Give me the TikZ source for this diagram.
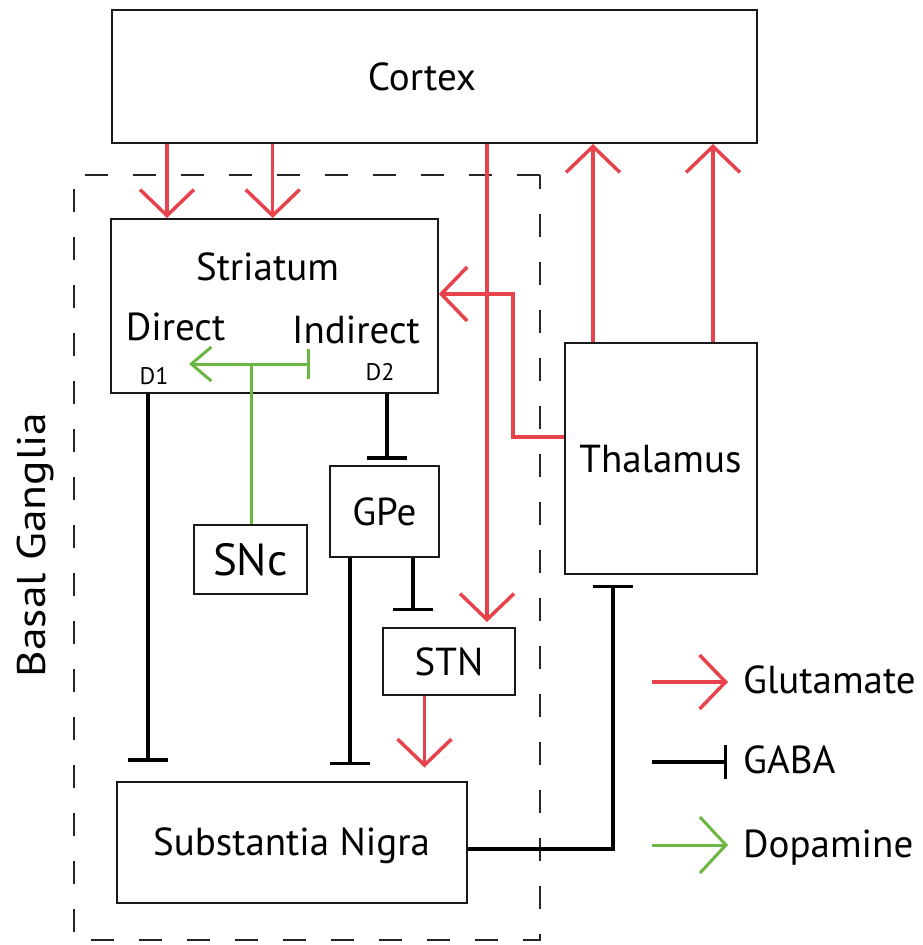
\documentclass[tikz,border=0pt]{standalone}
\usepackage{fontspec}
\setmainfont{PT Sans}
\usetikzlibrary{arrows.meta}
\definecolor{gred}{RGB}{232,67,76}
\definecolor{dgreen}{RGB}{108,182,68}
\begin{document}
\begin{tikzpicture}[x=1pt,y=-1pt,
  box/.style={draw=black!90, line width=2pt, inner sep=0pt, font=\fontsize{39}{45}\selectfont, text height=27.5pt, text depth=0pt},
  lbl/.style={inner sep=0pt, font=\fontsize{39}{45}\selectfont},
  small/.style={inner sep=0pt, font=\fontsize{24}{28}\selectfont},
  glu/.style={draw=gred, line width=3.5pt, line join=miter, -{Straight Barb[length=26pt,width=54pt]}},
  gaba/.style={draw=black, line width=3.5pt, line join=miter, -{Bar[width=40pt]}},
  dopa/.style={draw=dgreen, line width=3pt},
  bgframe/.style={draw=black!85, line width=2pt, dash pattern=on 23pt off 25pt}
]
\useasboundingbox (0,0) rectangle (923,945);

% Basal ganglia frame
\draw[bgframe] (540,175) -- (74,175) -- (74,940) -- (540,940) -- cycle;
\node[lbl, rotate=90, text height=28pt, text depth=0pt, font=\fontsize{40}{46}\selectfont] (bg) at (31,545) {\scalebox{1.14}[1]{Basal Ganglia}};

% boxes
\node[box, minimum width=645pt, minimum height=133pt] (cortex) at (434.5,76.5) {Cortex\hspace*{25pt}};
\node[box, minimum width=327pt, minimum height=174pt] (str) at (274.3,306) {};
\node[box, minimum width=192pt, minimum height=231pt] (thal) at (660.5,458.3) {Thalamus};
\node[box, minimum width=109pt, minimum height=91pt] (gpe) at (384.3,511.3) {GPe};
\node[box, minimum width=113pt, minimum height=69pt, font=\fontsize{45}{50}\selectfont, text height=32pt] (snc) at (250.3,559.5) {SNc};
\node[box, minimum width=132pt, minimum height=67pt] (stn) at (449,661.5) {STN};
\node[box, minimum width=350pt, minimum height=121pt] (sn) at (291.5,842) {Substantia Nigra};

% striatum labels
\node[lbl, anchor=base] (strlbl) at (267.5,280) {Striatum};
\node[lbl, anchor=base] (direct) at (175.5,340) {Direct};
\node[lbl, anchor=base] (indirect) at (356,343) {Indirect};
\node[small, anchor=base] (d1) at (154,384) {D1};
\node[small, anchor=base] (d2) at (380,380) {D2};

% helper coordinates
\coordinate (c1) at (167,0);
\coordinate (c2) at (272.7,0);
\coordinate (c3) at (487,0);
\coordinate (c4) at (593,0);
\coordinate (c5) at (713,0);
\coordinate (c6) at (424.5,0);
\coordinate (ty) at (0,437);
\coordinate (sy) at (513,294);
\coordinate (d1x) at (148,0);
\coordinate (d2x) at (387,0);
\coordinate (gx1) at (413,0);
\coordinate (gx2) at (350,0);
\coordinate (gy) at (613,849);
\coordinate (gj) at (251,364);
\coordinate (gl) at (189,364);
\coordinate (gr) at (310,364);

% glutamate
\draw[glu] (cortex.south -| c1) -- (str.north -| c1);
\draw[glu] (cortex.south -| c2) -- (str.north -| c2);
\draw[glu, shorten >=5pt] (cortex.south -| c3) -- (stn.north -| c3);
\draw[glu] (thal.north -| c4) -- (cortex.south -| c4);
\draw[glu] (thal.north -| c5) -- (cortex.south -| c5);
\draw[glu] (thal.west |- ty) -| (sy) -- (str.east |- sy);
\draw[glu, shorten >=13pt] (stn.south -| c6) -- (sn.north -| c6);

% GABA
\draw[gaba, shorten >=19pt] (str.south -| d1x) -- (sn.north -| d1x);
\draw[gaba, shorten >=5pt] (str.south -| d2x) -- (gpe.north -| d2x);
\draw[gaba, shorten >=16pt] (gpe.south -| gx1) -- (stn.north -| gx1);
\draw[gaba, shorten >=15.5pt] (gpe.south -| gx2) -- (sn.north -| gx2);
\draw[gaba, shorten >=10pt] (sn.east |- gy) -| (thal.south -| gy);

% dopamine
\draw[dopa] (snc.north -| gj) -- (gj);
\draw[dopa, -{Straight Barb[length=20pt,width=34pt]}] (gj) -- (gl);
\draw[dopa, -{Bar[width=30pt]}] (gj) -- (gr);

% legend
\coordinate (l1s) at (652,682);
\coordinate (l1e) at (728,682);
\coordinate (l2s) at (652,762);
\coordinate (l2e) at (727,762);
\coordinate (l3s) at (652,845);
\coordinate (l3e) at (728,845);
\draw[glu] (l1s) -- (l1e);
\draw[gaba, -{Bar[width=34pt]}] (l2s) -- (l2e);
\draw[dopa, -{Straight Barb[length=26pt,width=56pt]}] (l3s) -- (l3e);
\node[lbl, anchor=base west] (glut) at (743,693) {Glutamate};
\node[lbl, anchor=base west] (gaba) at (743,773) {GABA};
\node[lbl, anchor=base west] (dopa) at (743,857) {Dopamine};
\end{tikzpicture}
\end{document}
